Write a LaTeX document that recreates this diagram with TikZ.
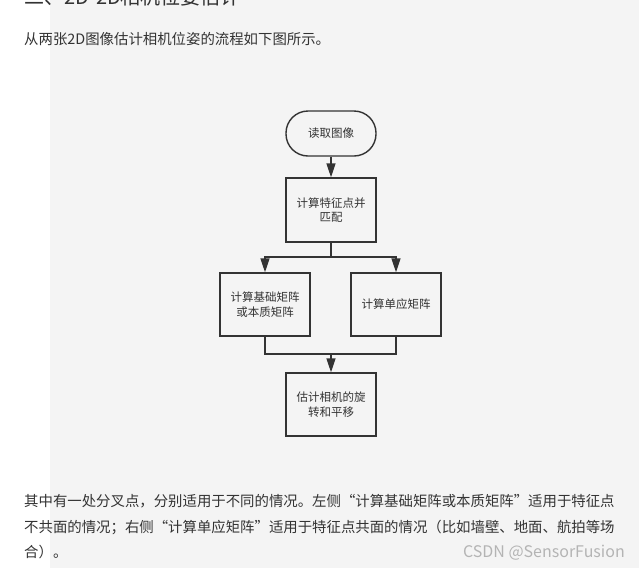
\documentclass[tikz,border=0pt]{standalone}
\usepackage{fontspec}
\setmainfont{Noto Sans CJK SC}
\usetikzlibrary{arrows.meta}

\definecolor{pagegray}{HTML}{F4F4F4}
\definecolor{inkgray}{HTML}{333333}
\definecolor{markgray}{HTML}{B4B4B4}

\begin{document}
\begin{tikzpicture}[
        x=1pt, y=-1pt,
        boxstep/.style={rectangle, draw=inkgray, line width=1.4pt, fill=pagegray,
            minimum width=90pt, minimum height=63pt, inner sep=2pt,
            align=center, text=inkgray, font=\fontsize{11.5}{14.5}\selectfont},
        startstep/.style={boxstep, rounded corners=22pt, minimum height=45pt},
        line/.style={draw=inkgray, line width=1.4pt},
        arr/.style={line, -{Triangle[width=9pt,length=14pt]}},
        para/.style={anchor=base west, inner sep=0pt, text=inkgray,
            font=\fontsize{14.4}{14.4}\selectfont}
    ]

    % page background
    \useasboundingbox (0,0) rectangle (639,568);
    \clip (0,0) rectangle (639,568);
    \fill[white] (0,0) rectangle (639,568);
    \fill[pagegray] (50,0) rectangle (639,568);

    % Text above the chart
    \node[para, font=\fontsize{20}{20}\selectfont] (head) at (24,4) {二、2D-2D相机位姿估计};
    \node[para] (intro) at (24,44) {从两张2D图像估计相机位姿的流程如下图所示。};

    % Flow chart
    \node[startstep] (read) at (331,133.5) {读取图像};
    \node[boxstep, minimum height=64pt] (match) at (331,210) {计算特征点并\\匹配};
    \node[boxstep] (fund) at (265,304.5) {计算基础矩阵\\或本质矩阵};
    \node[boxstep] (homo) at (396,304.5) {计算单应矩阵};
    \node[boxstep] (pose) at (331,404.5) {估计相机的旋\\转和平移};

    \coordinate (split) at (331,257);
    \coordinate (join) at (331,354);

    \draw[arr] (read) -- (match);
    \draw[line] (match) -- (split);
    \draw[arr] (split) -| (fund.north);
    \draw[arr] (split) -| (homo.north);
    \draw[line] (fund.south) |- (join);
    \draw[line] (homo.south) |- (join);
    \draw[arr] (join) -- (pose);

    % Text below the chart
    \node[para] (line1) at (24,506) {其中有一处分叉点，分别适用于不同的情况。左侧“计算基础矩阵或本质矩阵”适用于特征点};
    \node[para] (line2) at (24,532) {不共面的情况；右侧“计算单应矩阵”适用于特征点共面的情况（比如墙壁、地面、航拍等场};
    \node[para] (line3) at (24,557) {合）。};
    \node[para, anchor=base east, text=markgray, font=\fontsize{16}{16}\selectfont] (mark) at (625,557) {CSDN @SensorFusion};

\end{tikzpicture}
\end{document}
